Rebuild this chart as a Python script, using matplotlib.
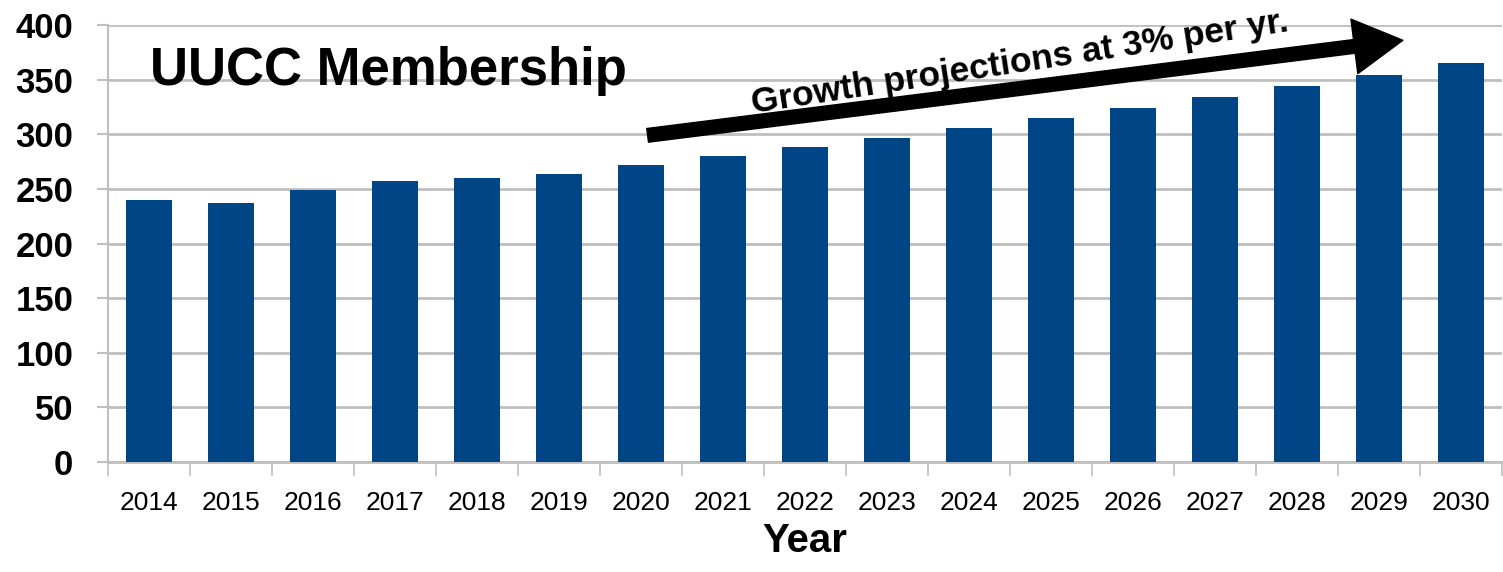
import numpy as np
import matplotlib.pyplot as plt

years = ['2014', '2015', '2016', '2017', '2018', '2019', '2020', '2021', '2022',
         '2023', '2024', '2025', '2026', '2027', '2028', '2029', '2030']
members = [240, 237, 249, 257, 260, 264, 272, 280, 288,
           297, 306, 315, 324, 334, 344, 354, 365]
yticks = [0, 50, 100, 150, 200, 250, 300, 350, 400]

plt.rcParams['font.family'] = ['Liberation Sans', 'DejaVu Sans']

fig = plt.figure(figsize=(15.03, 5.72), dpi=100)
ax = fig.add_axes([0.0719, 0.1923, 0.9275, 0.764])

x = np.arange(len(years))
ax.bar(x, members, width=0.57, color='#004586', zorder=3)

ax.set_xlim(-0.5, len(years) - 0.5)
ax.set_ylim(0, 400)
ax.set_yticks(yticks)
ax.set_yticklabels([str(v) for v in yticks], fontsize=25, fontweight='bold')

# x ticks sit between the categories, labels in the middle
ax.set_xticks(np.arange(-0.5, len(years), 1.0))
ax.set_xticklabels([])
ax.set_xticks(x, minor=True)
ax.set_xticklabels(years, minor=True, fontsize=19)
ax.tick_params(axis='x', which='major', length=10, width=1.2, color='#BFBFBF')
ax.tick_params(axis='x', which='minor', length=0, pad=21)
ax.tick_params(axis='y', length=8, width=1.5, color='#BFBFBF', pad=17)

ax.grid(axis='y', color='#BFBFBF', linewidth=2, zorder=0)
for s in ['top', 'right']:
    ax.spines[s].set_visible(False)
ax.spines['left'].set_color('#BFBFBF')
ax.spines['left'].set_linewidth(1.5)
ax.spines['bottom'].set_color('#BFBFBF')
ax.spines['bottom'].set_linewidth(2)

ax.set_xlabel('Year', fontsize=29, fontweight='bold', labelpad=5)

ax.text(0.01, 345, 'UUCC Membership', fontsize=38, fontweight='bold',
        ha='left', va='baseline', zorder=5)

# growth arrow
ax.annotate('', xy=(15.29, 386), xytext=(6.08, 299),
            arrowprops=dict(arrowstyle='simple,head_length=1.6,head_width=1.8,tail_width=0.45',
                            color='black', mutation_scale=22, shrinkA=0, shrinkB=0),
            zorder=6)
ax.text(10.62, 366, 'Growth projections at 3% per yr.', fontsize=25.5, fontweight='bold',
        ha='center', va='center', rotation=8.7, rotation_mode='anchor', zorder=6)

fig.savefig('out.png', dpi=100)
